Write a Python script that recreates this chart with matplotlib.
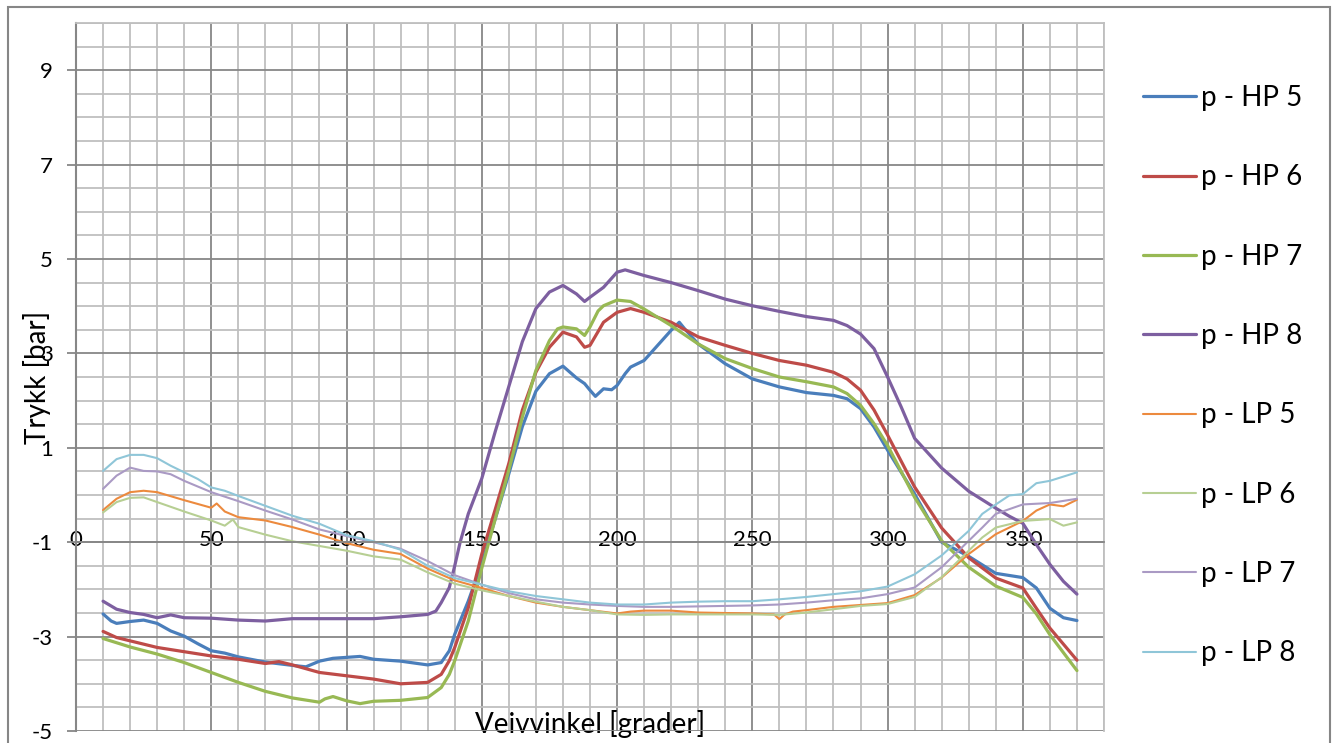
import matplotlib
matplotlib.use("Agg")
import matplotlib.pyplot as plt
from matplotlib.ticker import MultipleLocator
from matplotlib.patches import Rectangle
import numpy as np

plt.rcParams['font.family'] = ['Lato', 'DejaVu Sans']
plt.rcParams['axes.unicode_minus'] = False

# crank angle [deg] / pressure [bar]
hp5_deg = [10, 13, 15, 20, 25, 30, 35, 40, 45, 50, 55, 60, 70, 80, 85, 90, 95, 100, 105, 110,
           120, 130, 135, 138, 140, 145, 150, 155, 160, 165, 170, 175, 180, 185, 188, 190, 192,
           195, 198, 200, 203, 205, 210, 215, 220, 223, 225, 230, 240, 250, 260, 270, 280, 285,
           290, 295, 300, 310, 320, 330, 340, 350, 355, 360, 365, 370]
hp5_bar = [-2.52, -2.67, -2.72, -2.68, -2.65, -2.72, -2.88, -2.99, -3.15, -3.3, -3.35, -3.43,
           -3.54, -3.61, -3.64, -3.52, -3.46, -3.44, -3.42, -3.48, -3.52, -3.6, -3.55, -3.3,
           -2.95, -2.25, -1.45, -0.5, 0.45, 1.45, 2.2, 2.57, 2.73, 2.48, 2.36, 2.22, 2.09, 2.25,
           2.23, 2.32, 2.57, 2.71, 2.85, 3.17, 3.49, 3.66, 3.52, 3.2, 2.78, 2.46, 2.29, 2.17,
           2.11, 2.04, 1.83, 1.44, 0.95, 0.02, -1.0, -1.3, -1.66, -1.75, -1.97, -2.4, -2.6, -2.66]

hp6_deg = [10, 15, 20, 30, 40, 50, 60, 70, 75, 80, 90, 100, 110, 120, 130, 135, 138, 140, 145,
           150, 155, 160, 165, 170, 175, 180, 185, 188, 190, 195, 200, 205, 210, 220, 230, 240,
           250, 260, 270, 280, 285, 290, 295, 300, 310, 320, 330, 340, 350, 355, 360, 370]
hp6_bar = [-2.89, -3.02, -3.09, -3.23, -3.32, -3.41, -3.48, -3.57, -3.53, -3.6, -3.76, -3.83,
           -3.9, -4.0, -3.97, -3.8, -3.51, -3.23, -2.39, -1.25, -0.3, 0.67, 1.8, 2.6, 3.13, 3.45,
           3.35, 3.13, 3.17, 3.66, 3.87, 3.95, 3.87, 3.66, 3.35, 3.17, 3.0, 2.85, 2.75, 2.6,
           2.46, 2.22, 1.8, 1.27, 0.17, -0.7, -1.33, -1.76, -1.97, -2.4, -2.82, -3.5]

hp7_deg = [10, 15, 20, 30, 40, 50, 60, 70, 80, 90, 92, 95, 100, 105, 110, 120, 130, 135, 138,
           140, 145, 150, 155, 160, 165, 170, 175, 178, 180, 185, 188, 190, 193, 195, 200, 205,
           210, 220, 230, 240, 250, 260, 270, 280, 285, 290, 295, 300, 310, 320, 330, 340, 350,
           355, 360, 370]
hp7_bar = [-3.04, -3.13, -3.22, -3.37, -3.55, -3.76, -3.97, -4.16, -4.3, -4.39, -4.32, -4.27,
           -4.36, -4.42, -4.37, -4.35, -4.29, -4.08, -3.8, -3.51, -2.67, -1.55, -0.5, 0.53,
           1.65, 2.64, 3.27, 3.52, 3.56, 3.52, 3.38, 3.56, 3.9, 4.01, 4.13, 4.1, 3.94, 3.59,
           3.2, 2.89, 2.68, 2.5, 2.4, 2.29, 2.15, 1.9, 1.51, 1.05, -0.05, -0.97, -1.53, -1.93,
           -2.17, -2.52, -2.96, -3.72]

hp8_deg = [10, 15, 20, 25, 30, 35, 40, 50, 60, 70, 80, 90, 100, 110, 120, 130, 133, 135, 138,
           140, 142, 145, 148, 150, 153, 155, 160, 165, 170, 175, 180, 185, 188, 190, 195, 200,
           203, 210, 220, 230, 240, 250, 260, 270, 280, 285, 290, 295, 300, 305, 310, 320, 330,
           340, 345, 350, 355, 360, 365, 370]
hp8_bar = [-2.25, -2.42, -2.49, -2.53, -2.6, -2.54, -2.6, -2.61, -2.65, -2.67, -2.62, -2.62,
           -2.62, -2.62, -2.58, -2.53, -2.46, -2.28, -1.96, -1.5, -1.0, -0.4, 0.05, 0.35, 0.95,
           1.35, 2.3, 3.25, 3.95, 4.3, 4.44, 4.26, 4.1, 4.19, 4.4, 4.72, 4.77, 4.65, 4.5, 4.33,
           4.15, 4.01, 3.89, 3.78, 3.7, 3.59, 3.41, 3.1, 2.5, 1.87, 1.2, 0.57, 0.08, -0.28,
           -0.45, -0.6, -1.05, -1.47, -1.83, -2.1]

lp5_deg = [10, 15, 20, 25, 30, 40, 50, 52, 55, 60, 70, 80, 90, 100, 110, 120, 130, 140, 150,
           160, 170, 180, 190, 200, 205, 210, 220, 230, 240, 250, 258, 260, 262, 265, 270, 280,
           290, 300, 310, 320, 330, 340, 350, 355, 360, 365, 370]
lp5_bar = [-0.32, -0.08, 0.06, 0.09, 0.06, -0.11, -0.27, -0.18, -0.35, -0.47, -0.54, -0.68,
           -0.84, -1.02, -1.16, -1.25, -1.56, -1.81, -1.97, -2.14, -2.28, -2.37, -2.44, -2.51,
           -2.47, -2.45, -2.45, -2.49, -2.5, -2.51, -2.53, -2.63, -2.53, -2.47, -2.44, -2.37,
           -2.33, -2.29, -2.12, -1.75, -1.25, -0.83, -0.55, -0.33, -0.2, -0.24, -0.1]

lp6_deg = [10, 15, 20, 25, 30, 40, 50, 55, 58, 60, 70, 80, 90, 100, 110, 120, 130, 140, 150,
           160, 170, 180, 190, 200, 210, 220, 230, 240, 250, 260, 270, 280, 290, 300, 310, 320,
           330, 335, 340, 350, 360, 365, 370]
lp6_bar = [-0.37, -0.15, -0.06, -0.05, -0.15, -0.35, -0.54, -0.65, -0.52, -0.68, -0.84, -0.98,
           -1.08, -1.18, -1.3, -1.37, -1.64, -1.88, -2.02, -2.14, -2.26, -2.37, -2.44, -2.53,
           -2.54, -2.53, -2.53, -2.53, -2.53, -2.54, -2.49, -2.42, -2.35, -2.31, -2.16, -1.74,
           -1.18, -0.9, -0.69, -0.55, -0.51, -0.65, -0.58]

lp7_deg = [10, 15, 20, 25, 30, 35, 40, 50, 60, 70, 80, 90, 100, 110, 120, 130, 140, 150, 160,
           170, 180, 190, 200, 210, 220, 240, 250, 260, 270, 280, 290, 300, 310, 320, 330, 335,
           340, 350, 360, 370]
lp7_bar = [0.13, 0.41, 0.58, 0.51, 0.5, 0.44, 0.3, 0.06, -0.13, -0.33, -0.52, -0.73, -0.87,
           -1.0, -1.14, -1.4, -1.7, -1.9, -2.08, -2.21, -2.28, -2.32, -2.35, -2.37, -2.37,
           -2.35, -2.34, -2.32, -2.28, -2.23, -2.19, -2.1, -1.96, -1.53, -0.97, -0.69, -0.4,
           -0.2, -0.17, -0.08]

lp8_deg = [10, 15, 20, 25, 30, 35, 40, 45, 50, 55, 60, 70, 80, 90, 100, 110, 120, 130, 140,
           150, 160, 170, 180, 190, 200, 210, 220, 230, 240, 250, 260, 270, 280, 290, 300, 310,
           320, 330, 335, 340, 345, 350, 355, 360, 370]
lp8_bar = [0.51, 0.76, 0.85, 0.85, 0.78, 0.62, 0.48, 0.34, 0.16, 0.09, -0.02, -0.23, -0.44,
           -0.61, -0.85, -0.98, -1.16, -1.5, -1.76, -1.9, -2.04, -2.14, -2.21, -2.28, -2.32,
           -2.32, -2.28, -2.26, -2.25, -2.25, -2.21, -2.16, -2.1, -2.04, -1.94, -1.68, -1.28,
           -0.76, -0.4, -0.2, -0.01, 0.02, 0.25, 0.3, 0.48]

series = [(hp5_deg, hp5_bar, 'p - HP 5', '#4A7EBB', 2.3),
          (hp6_deg, hp6_bar, 'p - HP 6', '#BE4B48', 2.3),
          (hp7_deg, hp7_bar, 'p - HP 7', '#98B954', 2.3),
          (hp8_deg, hp8_bar, 'p - HP 8', '#7D5FA0', 2.3),
          (lp5_deg, lp5_bar, 'p - LP 5', '#EC8A3E', 1.5),
          (lp6_deg, lp6_bar, 'p - LP 6', '#B7CF93', 1.5),
          (lp7_deg, lp7_bar, 'p - LP 7', '#AA9AC4', 1.5),
          (lp8_deg, lp8_bar, 'p - LP 8', '#8FC6D8', 1.5)]

fig = plt.figure(figsize=(13.38, 7.43), dpi=100)
ax = fig.add_axes([76/1338, 12/743, (1104-76)/1338, (731-23)/743])

for deg, bar, name, col, lw in series:
    ax.plot(deg, bar, color=col, lw=lw, label=name, solid_capstyle='round')

ax.set_xlim(0, 380)
ax.set_ylim(-5, 10)
ax.set_xticks(np.arange(0, 351, 50))
ax.xaxis.set_minor_locator(MultipleLocator(10))
ax.set_yticks(np.arange(-5, 10, 2))
ax.yaxis.set_minor_locator(MultipleLocator(0.5))
ax.grid(which='minor', color='#BFBFBF', lw=1.3)
ax.grid(which='major', color='#878787', lw=1.3)
ax.set_axisbelow(True)

for s in ['top', 'right']:
    ax.spines[s].set_color('#BFBFBF')
    ax.spines[s].set_linewidth(1.3)
ax.spines['left'].set_color('#878787')
ax.spines['left'].set_linewidth(1.5)
ax.spines['bottom'].set_position(('data', -1))
ax.spines['bottom'].set_color('#878787')
ax.spines['bottom'].set_linewidth(1.3)

ax.tick_params(axis='y', which='major', direction='out', length=6.5, width=1.3,
               color='#878787', pad=10, labelsize=16)
ax.tick_params(axis='x', which='major', length=0, pad=-8.5, labelsize=16)
ax.tick_params(which='minor', length=0)

ax.set_xlabel('Veivvinkel [grader]', fontsize=20)
ax.xaxis.set_label_coords(0.5, 0.029)
ax.set_ylabel('Trykk [bar]', fontsize=20)
ax.yaxis.set_label_coords(-0.024, 0.5)

ax.legend(loc='upper left', bbox_to_anchor=(1143/1338, 1 - 85/743),
          bbox_transform=fig.transFigure, frameon=False, fontsize=20,
          borderpad=0, borderaxespad=0, labelspacing=1.92, handlelength=1.9,
          handletextpad=0.2)

fig.patches.append(Rectangle((8/1338, -0.02), (1330-8)/1338, 1.02 - 7/743,
                             transform=fig.transFigure, fill=False,
                             edgecolor='#868686', lw=1.5))

fig.savefig('out.png', dpi=100)
